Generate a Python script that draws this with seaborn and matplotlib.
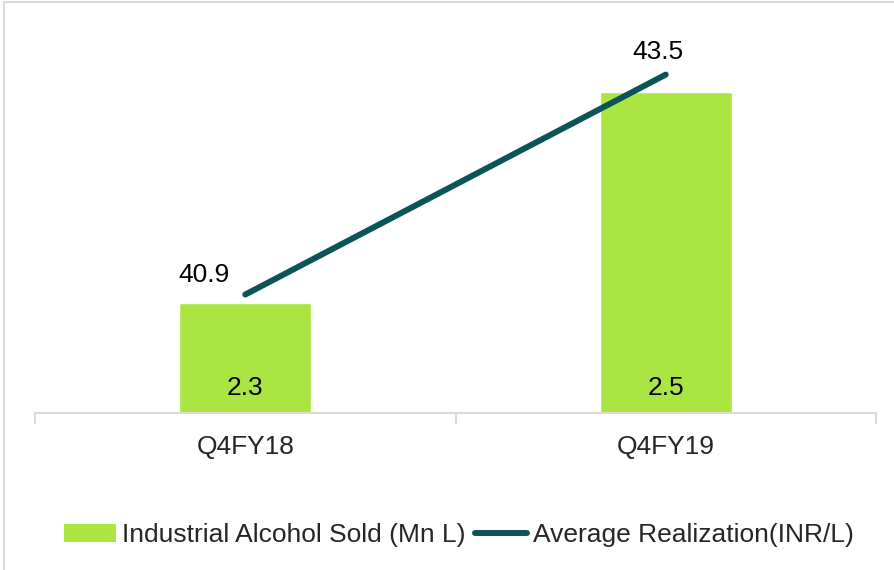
import matplotlib
matplotlib.use("Agg")
import matplotlib.pyplot as plt
import seaborn as sns
import pandas as pd
from matplotlib.patches import Rectangle
from matplotlib.lines import Line2D
from matplotlib.patches import Patch

quarters = ['Q4FY18', 'Q4FY19']
alcohol_sold = [2.3, 2.5]
avg_realization = [40.9, 43.5]

bar_color = '#ABE542'
line_color = '#0B5457'

sns.set_theme(style='white')
plt.rcParams['font.family'] = ['Liberation Sans', 'DejaVu Sans']

df = pd.DataFrame({'Quarter': quarters, 'Sold': alcohol_sold, 'Realization': avg_realization})

fig = plt.figure(figsize=(8.94, 5.7), dpi=100)
ax = fig.add_axes([35 / 894, 157 / 570, 841 / 894, 393 / 570])

sns.barplot(data=df, x='Quarter', y='Sold', color=bar_color, width=0.314,
            saturation=1, ax=ax)
ax.set_ylim(2.196, 2.196 + 393 / 1055)
ax.set_xlim(-0.5, 1.5)

for i, v in enumerate(alcohol_sold):
    ax.annotate(f'{v}', (i, 2.196), xytext=(0, 25), textcoords='offset pixels',
                ha='center', va='center', fontsize=19, color='black')

ax2 = ax.twinx()
sns.lineplot(data=df, x='Quarter', y='Realization', color=line_color, linewidth=4.3,
             ax=ax2, solid_capstyle='round')
ax2.set_ylim(39.5, 39.5 + 393 / 84.6)
ax2.set_xlim(-0.5, 1.5)

offsets = [(-41, 20), (-8, 23)]
for i, v in enumerate(avg_realization):
    ax2.annotate(f'{v}', (i, v), xytext=offsets[i], textcoords='offset pixels',
                 ha='center', va='center', fontsize=19, color='black')

for a in (ax, ax2):
    for s in ['top', 'right', 'left']:
        a.spines[s].set_visible(False)
    a.set_yticks([])
    a.set_ylabel('')
    a.set_xlabel('')
ax2.spines['bottom'].set_visible(False)
ax.spines['bottom'].set_color('#D9D9D9')
ax.spines['bottom'].set_linewidth(1.5)

ax.set_xticks([0, 1])
ax.set_xticklabels(quarters, fontsize=19)
ax.tick_params(axis='x', which='major', length=0, pad=16)
ax.set_xticks([-0.5, 0.5, 1.5], minor=True)
ax.tick_params(axis='x', which='minor', length=8, width=1.5, color='#D9D9D9', bottom=True)

handles = [Patch(facecolor=bar_color, edgecolor='none'),
           Line2D([0], [0], color=line_color, linewidth=4.3)]
fig.legend(handles, ['Industrial Alcohol Sold (Mn L)', 'Average Realization(INR/L)'],
           loc='center', bbox_to_anchor=(459 / 894, 1 - 535 / 570), ncol=2, frameon=False,
           fontsize=19, handlelength=1.95, handletextpad=0.23, columnspacing=0.38)

fig.patches.append(Rectangle((4 / 894, -0.1), 1.2, 1.1 - 2 / 570, transform=fig.transFigure,
                             fill=False, edgecolor='#D9D9D9', linewidth=1.5))

fig.savefig('out.png', dpi=100)
